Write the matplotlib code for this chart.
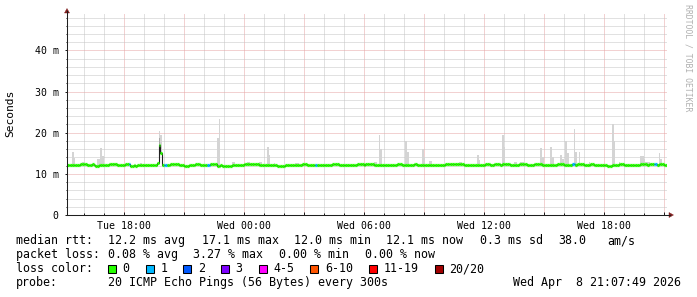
import matplotlib
matplotlib.use("Agg")
import matplotlib.pyplot as plt
import matplotlib.dates as mdates
from matplotlib.collections import LineCollection
from matplotlib.patches import Rectangle, Polygon
from matplotlib.lines import Line2D
import numpy as np
import pandas as pd

# --- data (5 minute steps, last 30 hours) ---
t_start = "2026-04-07 15:07:49"
n_steps = 360

# median rtt in ms, one value per step (24 per row = 2 hours)
median_ms = [
    12.2, 12.2, 12.1, 12.2, 12.2, 12.2, 12.1, 12.2, 12.4, 12.4, 12.5, 12.4, 12.2, 12.2, 12.2, 12.3, 12.2, 12.0, 12.0, 12.2, 12.2, 12.1, 12.2, 12.2,
    12.2, 12.4, 12.4, 12.5, 12.4, 12.4, 12.2, 12.2, 12.1, 12.2, 12.2, 12.4, 12.4, 12.3, 12.0, 12.0, 12.1, 12.0, 12.2, 12.2, 12.2, 12.1, 12.2, 12.2,
    12.2, 12.2, 12.1, 12.2, 12.2, 12.2, 12.6, 17.1, 15.0, 12.2, 12.1, 12.1, 12.2, 12.2, 12.4, 12.5, 12.4, 12.4, 12.4, 12.2, 12.2, 12.2, 12.0, 12.0,
    12.0, 12.2, 12.2, 12.1, 12.2, 12.4, 12.4, 12.4, 12.2, 12.2, 12.2, 12.2, 12.2, 12.2, 12.4, 12.4, 12.5, 12.4, 12.0, 12.0, 12.1, 12.0, 12.0, 12.0,
    12.0, 12.0, 12.0, 12.2, 12.2, 12.2, 12.1, 12.2, 12.2, 12.2, 12.4, 12.4, 12.5, 12.4, 12.4, 12.4, 12.5, 12.4, 12.4, 12.2, 12.2, 12.2, 12.2, 12.1,
    12.2, 12.2, 12.2, 12.1, 12.2, 12.2, 12.0, 12.0, 12.0, 12.0, 12.0, 12.2, 12.2, 12.2, 12.1, 12.2, 12.2, 12.2, 12.2, 12.1, 12.2, 12.4, 12.4, 12.4,
    12.2, 12.2, 12.1, 12.2, 12.2, 12.2, 12.2, 12.2, 12.2, 12.1, 12.2, 12.2, 12.2, 12.1, 12.2, 12.4, 12.4, 12.5, 12.4, 12.2, 12.2, 12.2, 12.1, 12.2,
    12.2, 12.2, 12.2, 12.2, 12.1, 12.2, 12.4, 12.4, 12.4, 12.4, 12.2, 12.3, 12.3, 12.3, 12.3, 12.3, 12.2, 12.2, 12.2, 12.1, 12.2, 12.2, 12.2, 12.2,
    12.2, 12.2, 12.1, 12.2, 12.2, 12.2, 12.4, 12.4, 12.4, 12.2, 12.2, 12.2, 12.1, 12.2, 12.2, 12.2, 12.3, 12.3, 12.2, 12.2, 12.1, 12.2, 12.2, 12.2,
    12.2, 12.2, 12.2, 12.1, 12.2, 12.2, 12.2, 12.2, 12.1, 12.2, 12.2, 12.3, 12.4, 12.4, 12.3, 12.4, 12.4, 12.3, 12.4, 12.4, 12.3, 12.3, 12.2, 12.2,
    12.2, 12.2, 12.1, 12.2, 12.2, 12.2, 12.2, 12.1, 12.2, 12.2, 12.2, 12.4, 12.4, 12.4, 12.2, 12.2, 12.4, 12.4, 12.4, 12.4, 12.2, 12.4, 12.5, 12.4,
    12.4, 12.4, 12.2, 12.2, 12.1, 12.2, 12.2, 12.4, 12.4, 12.4, 12.4, 12.4, 12.2, 12.2, 12.1, 12.2, 12.4, 12.4, 12.5, 12.4, 12.4, 12.2, 12.2, 12.2,
    12.2, 12.2, 12.1, 12.2, 12.2, 12.2, 12.4, 12.4, 12.4, 12.4, 12.2, 12.1, 12.2, 12.2, 12.2, 12.3, 12.3, 12.2, 12.4, 12.4, 12.4, 12.4, 12.2, 12.2,
    12.2, 12.2, 12.4, 12.4, 12.2, 12.2, 12.1, 12.2, 12.2, 12.2, 12.2, 12.1, 12.0, 12.0, 12.0, 12.2, 12.2, 12.2, 12.2, 12.4, 12.4, 12.4, 12.2, 12.2,
    12.2, 12.2, 12.2, 12.1, 12.2, 12.2, 12.2, 12.2, 12.4, 12.4, 12.4, 12.4, 12.2, 12.4, 12.4, 12.4, 12.3, 12.3, 12.2, 12.4, 12.4, 12.4, 12.1, 12.1,
]

# smoke (slowest ping) where it sticks out above the median line
smoke_idx = [3, 4, 9, 10, 18, 19, 20, 21, 28, 29, 44, 55, 56, 90, 91, 99, 100, 108, 109,
             115, 116, 120, 121, 124, 137, 138, 184, 185, 187, 188, 203, 204, 213, 214,
             217, 218, 235, 236, 246, 247, 261, 262, 268, 269, 272, 273, 284, 285, 290,
             291, 296, 297, 299, 300, 304, 305, 307, 313, 327, 328, 331, 344, 345, 346,
             347, 348, 349, 355, 356]
smoke_top_ms = [15.3, 13.8, 12.8, 12.8, 13.6, 13.5, 16.2, 14.3, 12.7, 12.7, 12.7, 20.5, 19.5,
                18.7, 23.4, 13.0, 13.0, 12.8, 12.8, 12.9, 12.9, 16.6, 14.5, 12.6, 12.7, 12.7,
                12.8, 12.8, 19.4, 16.0, 17.9, 15.3, 16.1, 14.1, 13.1, 13.1, 12.8, 12.8, 14.5,
                13.3, 19.4, 16.6, 12.8, 12.8, 12.9, 12.9, 16.3, 14.1, 16.6, 14.1, 14.6, 13.7,
                17.9, 15.0, 20.8, 15.4, 15.3, 12.8, 22.2, 18.0, 12.8, 14.3, 14.3, 13.7, 13.0,
                13.0, 13.0, 15.1, 13.5]
smoke_dark_idx = [55]
smoke_dark_top_ms = [18.6]

# steps with lost pings (out of 20)
loss_idx = [37, 58, 59, 84, 85, 149, 303, 304, 352, 353]
loss_count = [1, 1, 1, 1, 1, 1, 1, 1, 1, 1]

loss_labels = ["0", "1", "2", "3", "4-5", "6-10", "11-19", "20/20"]
loss_colors = ["#26ff00", "#00b8ff", "#0059ff", "#7e00ff", "#ff00ff", "#ff5500", "#ff0000", "#a00000"]
loss_upper = [0, 1, 2, 3, 5, 10, 19, 20]

stats_rtt = ["12.2 ms avg", "17.1 ms max", "12.0 ms min", "12.1 ms now", "0.3 ms sd", "38.0", "am/s"]
stats_loss = ["0.08 % avg", "3.27 % max", "0.00 % min", "0.00 % now"]
probe_text = "20 ICMP Echo Pings (56 Bytes) every 300s"
stamp_text = "Wed Apr  8 21:07:49 2026"

# --- figure ---
W, H = 697, 297
plt.rcParams["font.family"] = ["DejaVu Sans Mono"]
fig = plt.figure(figsize=(W / 100, H / 100), dpi=100, facecolor="white")


def fx(x):
    return x / W


def fy(y):
    return 1 - y / H


ax_l, ax_r, ax_t, ax_b = 67, 667, 13, 215
ax = fig.add_axes([fx(ax_l), fy(ax_b), (ax_r - ax_l) / W, (ax_b - ax_t) / H])
ax.set_facecolor("white")

edges = pd.date_range(pd.Timestamp(t_start), periods=n_steps + 1, freq="5min")
tnum = mdates.date2num(edges.to_pydatetime())
step = 5 / 1440.0
med = np.array(median_ms)

# loss count per step
loss = np.zeros(n_steps, dtype=int)
for i, c in zip(loss_idx, loss_count):
    loss[i] = c

# smoke
s_idx = np.array(smoke_idx)
ax.bar(tnum[s_idx], np.array(smoke_top_ms) - med[s_idx], bottom=med[s_idx], width=step,
       align="edge", color="#d4d4d4", linewidth=0, zorder=2)
d_idx = np.array(smoke_dark_idx)
ax.bar(tnum[d_idx], np.array(smoke_dark_top_ms) - med[d_idx], bottom=med[d_idx], width=step,
       align="edge", color="#a8a8a8", linewidth=0, zorder=2.1)

# thin dark median line underneath
ax.stairs(med, tnum, baseline=None, color="#202020", linewidth=0.8, zorder=3)

# coloured median segments
segs = []
cols = []
for i in range(n_steps):
    segs.append([(tnum[i], med[i]), (tnum[i + 1], med[i])])
    k = 0
    while loss[i] > loss_upper[k]:
        k += 1
    cols.append(loss_colors[k])
lc = LineCollection(segs, colors=cols, linewidths=2.3, capstyle="butt", zorder=4)
ax.add_collection(lc)

ax.set_xlim(tnum[0], tnum[-1])
ax.set_ylim(0, 49.1)

# grid
grid_minor = "#c4c4c4"
grid_major = "#e6a4a4"
ax.xaxis.set_major_locator(mdates.HourLocator(byhour=range(0, 24, 3)))
ax.xaxis.set_minor_locator(mdates.HourLocator())


def xfmt(v, pos):
    d = mdates.num2date(v)
    if d.hour % 6 == 0:
        return d.strftime("%a %H:%M")
    return ""


ax.xaxis.set_major_formatter(plt.FuncFormatter(xfmt))
ax.yaxis.set_major_locator(plt.MultipleLocator(10))
ax.yaxis.set_minor_locator(plt.MultipleLocator(2))
ax.yaxis.set_major_formatter(plt.FuncFormatter(lambda v, p: "0" if v == 0 else "%d m" % v))

ax.grid(which="minor", color=grid_minor, linewidth=0.72, linestyle=(0, (1, 1)))
ax.grid(which="major", color=grid_major, linewidth=0.72, linestyle=(0, (1, 1)))
ax.set_axisbelow(True)

for s in ax.spines.values():
    s.set_visible(False)

axis_col = "#1f1f1f"
ax.tick_params(axis="x", which="major", direction="in", length=2.2, width=0.72, color=axis_col,
               pad=4.2, labelsize=7.1)
ax.tick_params(axis="x", which="minor", direction="in", length=1.4, width=0.72, color=axis_col)
ax.tick_params(axis="y", which="major", direction="out", length=1.5, width=0.72, color=axis_col,
               pad=4.4, labelsize=7.1)
ax.tick_params(axis="y", which="minor", direction="out", length=1.0, width=0.72, color=axis_col)

# axis lines with arrows
fig.add_artist(Line2D([fx(67), fx(67)], [fy(215), fy(11)], color=axis_col, linewidth=0.75))
fig.add_artist(Line2D([fx(67), fx(670)], [fy(215), fy(215)], color=axis_col, linewidth=0.75))
arrow_col = "#801f1f"
fig.add_artist(Polygon([(fx(64.5), fy(13)), (fx(69.5), fy(13)), (fx(67), fy(8.5))], closed=True,
                       facecolor=arrow_col, edgecolor=arrow_col, linewidth=0.3))
fig.add_artist(Polygon([(fx(669), fy(212.5)), (fx(669), fy(217.5)), (fx(673.5), fy(215))], closed=True,
                       facecolor=arrow_col, edgecolor=arrow_col, linewidth=0.3))

# labels
fig.text(fx(10.5), fy(113.5), "Seconds", rotation=90, ha="center", va="center", fontsize=8.1)
fig.text(fx(687.7), fy(4.5), "RRDTOOL / TOBI OETIKER", rotation=270, ha="center", va="top",
         fontsize=5.9, color="#b0b0b0")

# legend block
fs = 8.4
base = [244, 258, 272, 286]
fig.text(fx(16), fy(base[0]), "median rtt:", fontsize=fs, va="baseline")
for x, s in zip([108, 201.5, 293.6, 386, 479.5, 558, 607], stats_rtt):
    fig.text(fx(x), fy(base[0]), s, fontsize=fs, va="baseline")

fig.text(fx(16), fy(base[1]), "packet loss:", fontsize=fs, va="baseline")
for x, s in zip([108, 193.5, 279.3, 364.7], stats_loss):
    fig.text(fx(x), fy(base[1]), s, fontsize=fs, va="baseline")

fig.text(fx(16), fy(base[2]), "loss color:", fontsize=fs, va="baseline")
bx = 108
for lab, col in zip(loss_labels, loss_colors):
    fig.add_artist(Rectangle((fx(bx), fy(272.5)), 8 / W, 8 / H, transform=fig.transFigure,
                             facecolor=col, edgecolor="black", linewidth=0.75))
    fig.text(fx(bx + 14.5), fy(base[2]), lab, fontsize=fs, va="baseline")
    bx = bx + 14.5 + 7 * len(lab) + 16.2

fig.text(fx(16), fy(base[3]), "probe:", fontsize=fs, va="baseline")
fig.text(fx(108), fy(base[3]), probe_text, fontsize=fs, va="baseline")
fig.text(fx(513), fy(base[3]), stamp_text, fontsize=fs, va="baseline")

fig.savefig("out.png", dpi=100, facecolor="white")
